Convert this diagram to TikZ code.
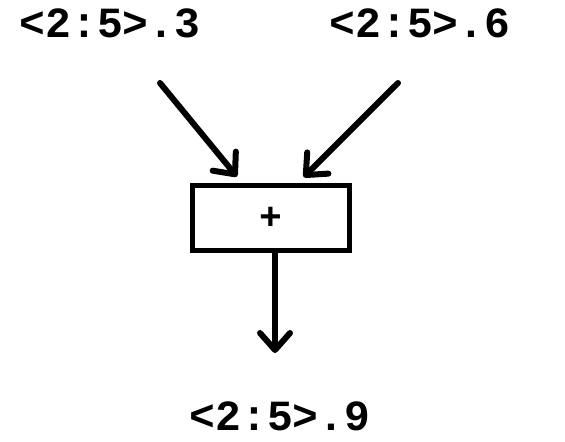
\documentclass[tikz,border=0pt]{standalone}
\usepackage{fontspec}
\setmonofont{Liberation Mono}
\usetikzlibrary{arrows.meta, calc}

\begin{document}
\begin{tikzpicture}[
            x=0.5pt, y=0.5pt,
            opbox/.style={draw=black, line width=2.7pt, rectangle, minimum width=78.5pt, minimum height=32.5pt, inner sep=0pt, font=\ttfamily\bfseries\fontsize{19}{22}\selectfont},
            flow/.style={line width=3pt, line cap=round, -{Straight Barb[round, length=8.5pt, width=15pt]}},
            varlabel/.style={font=\ttfamily\bfseries\fontsize{21.5}{26}\selectfont, inner sep=0pt, text depth=0pt, anchor=base}
        ]
        \useasboundingbox (0,0) rectangle (565,442);

        % Knoten
        \node[opbox] (sum) at (271,224) {+};
        \node[varlabel] (ina) at (110,404) {<2:5>.3};
        \node[varlabel] (inb) at (420,404) {<2:5>.6};
        \node[varlabel] (outc) at (280,11) {<2:5>.9};

        % Pfeilenden
        \coordinate (sa) at (160,359);
        \coordinate (sb) at (398,359);
        \coordinate (ec) at (275,89);

        % Kanten
        \draw[flow, shorten >=4pt] (sa) -- ($(sum.north)+(-29,0)$);
        \draw[flow, shorten >=4pt] (sb) -- ($(sum.north)+(27,0)$);
        \draw[flow] (sum.south -| ec) -- (ec);

    \end{tikzpicture}
\end{document}
